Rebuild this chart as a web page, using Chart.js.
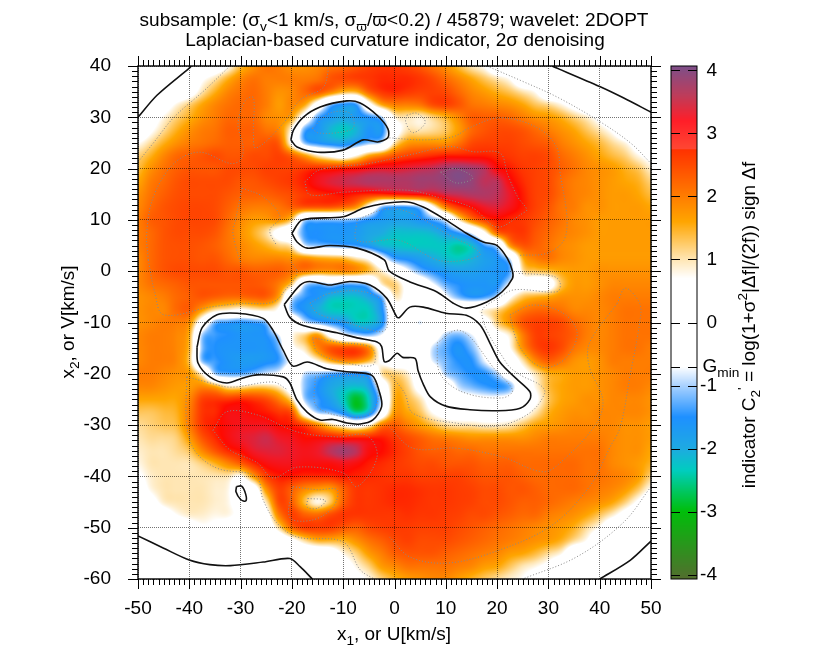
<!DOCTYPE html>
<html>
<head>
<meta charset="utf-8">
<style>html,body{margin:0;padding:0;background:#fff}canvas{display:block}</style>
<script src="https://cdn.jsdelivr.net/npm/chart.js@4"></script>
</head>
<body>
<canvas id="carte" width="822" height="658"></canvas>
<script>
// grid nodes, km/s
var gridX = [-50,-47.5,-45,-42.5,-40,-37.5,-35,-32.5,-30,-27.5,-25,-22.5,-20,-17.5,-15,-12.5,-10,-7.5,-5,-2.5,0,2.5,5,7.5,10,12.5,15,17.5,20,22.5,25,27.5,30,32.5,35,37.5,40,42.5,45,47.5,50];
var gridY = [40,37.5,35,32.5,30,27.5,25,22.5,20,17.5,15,12.5,10,7.5,5,2.5,0,-2.5,-5,-7.5,-10,-12.5,-15,-17.5,-20,-22.5,-25,-27.5,-30,-32.5,-35,-37.5,-40,-42.5,-45,-47.5,-50,-52.5,-55,-57.5,-60];

// indicator values, one row per gridY
var indicator = [
[0,0,0,0,0,0,0.2,0.7,1.4,1.8,2.1,2.0,1.8,1.8,1.9,2.1,2.2,2.4,2.6,2.7, 2.7,2.6,2.4,2.1,1.8,1.4,1.0,0.7,0,0,0,0,0,0,0,0,0,0,0,0,0],
[0,0,0,0,0,0.6,1.0,1.5,1.9,2.1,2.0,2.0,2.0,2.0,2.1,2.4,2.5,2.6,2.7,2.8, 2.8,2.8,2.7,2.5,2.2,1.9,1.6,1.3,1.0,0.7,0,0,0,0,0,0,0,0,0,0,0],
[0,0,0,0,0.3,1.0,1.5,1.9,2.1,2.2,2.0,1.8,1.9,2.2,2.4,2.0,1.5,1.5,2.3,2.7, 2.8,2.7,2.6,2.6,2.5,2.2,1.9,1.7,1.5,1.3,1.0,0.7,0,0,0,0,0,0,0,0,0],
[0,0,0.3,0.8,1.2,1.6,1.9,2.1,2.2,2.2,2.0,1.7,1.9,1.6,0.3,-1.1,-1.5,-1.4,0.4,1.6, 2.0,2.0,2.1,2.5,2.6,2.4,2.1,2.0,1.9,1.8,1.6,1.3,1.1,0.8,0.4,0,0,0,0,0,0],
[0,0.3,0.8,1.2,1.5,1.8,2.0,2.2,2.2,2.2,1.9,1.8,1.6,0.2,-1.3,-1.7,-1.9,-1.7,-1.5,-1.0, 0.8,1.0,0.9,1.2,1.5,1.9,2.3,2.3,2.3,2.2,2.0,1.8,1.7,1.5,1.2,0.9,0.5,0,0,0,0],
[0,0.6,1.1,1.5,1.8,2.0,2.1,2.3,2.3,2.3,2.1,1.9,0.7,-1.3,-1.6,-2.1,-2.3,-2.1,-1.6,-1.6, 0.2,1.0,1.0,1.1,1.3,1.7,2.2,2.4,2.5,2.5,2.4,2.2,2.0,1.8,1.6,1.3,1.0,0.6,0,0,0],
[0.7,1.1,1.5,1.8,2.0,2.1,2.2,2.3,2.3,2.3,2.4,2.3,0.6,-1.1,-1.5,-1.7,-1.8,-1.5,-1.1,-0.8, 1.0,1.7,1.8,1.8,1.8,2.1,2.5,2.6,2.6,2.6,2.5,2.4,2.3,2.0,1.8,1.6,1.4,1.1,0.8,0.3,0],
[1.2,1.5,1.9,2.2,2.3,2.4,2.5,2.4,2.4,2.5,2.5,2.6,2.3,1.7,1.0,0.6,0.3,0.8,1.6,2.0, 2.4,2.6,2.7,2.8,2.9,2.9,2.9,2.9,2.8,2.7,2.6,2.6,2.5,2.2,2.0,1.8,1.6,1.4,1.2,0.8,0.5],
[1.4,1.8,2.1,2.3,2.4,2.4,2.4,2.5,2.5,2.5,2.6,2.6,2.6,2.7,2.8,2.8,2.9,3.0,3.2,3.3, 3.3,3.4,3.5,3.6,3.8,3.9,3.8,3.6,3.1,2.9,2.7,2.6,2.5,2.3,2.1,1.9,1.8,1.7,1.5,1.3,0.9],
[1.6,2.0,2.2,2.4,2.5,2.5,2.5,2.5,2.4,2.4,2.5,2.6,2.7,2.9,3.2,3.4,3.5,3.6,3.7,3.7, 3.7,3.7,3.8,3.8,3.9,4.0,3.9,3.6,3.6,3.1,2.8,2.6,2.5,2.2,2.0,1.9,1.8,1.7,1.6,1.5,1.2],
[1.8,2.1,2.3,2.45,2.5,2.5,2.5,2.4,2.3,2.3,2.3,2.4,2.5,2.7,2.8,2.9,3.0,2.9,2.8,2.8, 2.9,3.0,3.1,3.2,3.5,3.6,3.7,3.7,3.6,3.3,2.9,2.6,2.5,2.2,2.0,1.9,1.8,1.7,1.7,1.6,1.4],
[1.9,2.2,2.4,2.5,2.55,2.55,2.5,2.3,2.1,2.0,2.0,2.1,2.3,2.4,2.4,2.4,2.2,1.8,0.5,-1.1, -1.4,-1.4,-1.0,0.6,2.0,2.7,3.0,3.3,3.4,3.2,2.9,2.6,2.4,2.1,2.0,1.8,1.8,1.7,1.7,1.7,1.6],
[2.0,2.3,2.4,2.5,2.55,2.55,2.5,2.2,1.9,1.7,1.7,1.8,1.2,-0.9,-1.1,-1.1,-1.1,-1.2,-1.5,-1.7, -1.8,-1.8,-1.6,-1.3,-0.7,0.9,2.0,2.6,2.9,2.8,2.7,2.5,2.3,2.1,1.9,1.8,1.7,1.7,1.7,1.7,1.7],
[2.0,2.2,2.4,2.5,2.5,2.5,2.4,2.1,1.8,1.5,1.1,0.4,-0.3,-1.4,-1.5,-1.6,-1.6,-1.7,-1.9,-2.0, -2.2,-2.2,-2.2,-2.1,-1.8,-1.4,-0.7,0.6,2.2,2.6,2.7,2.4,2.2,2.0,1.9,1.8,1.7,1.7,1.7,1.7,1.7],
[2.0,2.2,2.4,2.45,2.45,2.4,2.3,2.1,1.9,1.7,1.5,1.2,0.9,-0.8,-1.1,-1.2,-1.3,-1.4,-1.7,-2.1, -2.2,-2.3,-2.3,-2.3,-2.3,-2.45,-2.2,-1.4,-0.8,1.7,2.4,2.3,2.1,1.9,1.8,1.7,1.7,1.7,1.7,1.7,1.7],
[1.9,2.2,2.4,2.45,2.45,2.4,2.4,2.2,2.0,1.9,1.9,1.9,1.8,1.8,1.6,1.5,1.4,1.0,0.6,-0.5, -1.4,-1.6,-1.8,-2.0,-2.2,-2.3,-2.1,-1.8,-1.6,-0.8,1.5,2.0,2.1,1.9,1.8,1.7,1.7,1.7,1.7,1.7,1.7],
[1.9,2.2,2.4,2.5,2.5,2.5,2.5,2.4,2.4,2.3,2.3,2.3,2.1,2.0,1.8,1.8,1.9,1.8,1.4,0.9, 0.2,-0.6,-1.2,-1.5,-1.7,-1.8,-1.8,-1.7,-1.6,-1.3,1.0,1.3,1.4,1.6,1.7,1.7,1.8,1.8,1.8,1.8,1.8],
[1.9,2.1,2.2,2.3,2.4,2.4,2.4,2.4,2.4,2.4,2.3,2.0,1.2,-0.8,-1.2,-0.9,-1.2,-1.2,-0.9,0.9, 1.2,0.4,0.0,-0.7,-1.3,-1.5,-1.6,-1.6,-1.6,-0.7,0.3,0.2,0.3,1.3,1.7,1.7,1.8,1.9,1.9,1.9,1.9],
[1.8,1.9,2.0,2.2,2.3,2.4,2.3,2.2,2.2,2.3,2.3,1.6,-0.7,-1.4,-1.6,-2.1,-2.2,-2.2,-1.9,-1.2, 0.9,0.5,0.3,0.4,-0.6,-1.2,-1.5,-1.4,-0.9,0.6,1.3,1.5,1.6,1.8,1.8,1.8,1.9,2.0,2.0,2.0,2.0],
[1.8,1.9,1.9,2.2,2.3,1.7,1.1,0.9,0.7,0.9,1.0,0.6,-1.1,-1.6,-2.0,-2.3,-2.35,-2.35,-2.3,-1.6, 0.2,0.3,0.3,0.3,0.3,0.4,0.5,0.8,1.1,1.6,2.0,2.2,2.2,2.1,1.9,1.9,1.9,2.0,2.1,2.1,2.1],
[1.8,1.9,2.0,2.0,1.8,0.2,-1.2,-1.4,-1.5,-1.4,-1.1,0.6,0.3,-0.8,-1.2,-1.5,-1.7,-2.2,-2.2,-1.7, 0.2,0.1,-0.8,0.2,0.0,-0.1,0.0,0.3,1.2,1.8,2.4,2.6,2.6,2.5,2.2,2.0,1.9,2.0,2.1,2.1,2.1],
[1.9,2.0,2.0,1.9,1.5,-1.0,-1.4,-1.5,-1.6,-1.6,-1.5,-0.8,0.7,1.2,1.7,0.5,-0.5,-0.9,-1.1,-0.7, 0.1,0.2,0.2,-0.2,-1.0,-1.2,-0.8,-0.2,0.4,0.9,2.0,2.6,2.6,2.5,2.3,2.0,1.9,2.0,2.1,2.1,2.1],
[1.9,2.0,2.0,1.9,1.4,-1.1,-1.5,-1.6,-1.6,-1.6,-1.6,-1.2,0.5,1.0,1.9,2.4,2.5,2.5,1.9,0.3, 0.0,0.1,0.1,-0.9,-1.3,-1.6,-1.2,-0.5,-0.1,0.7,1.8,2.5,2.7,2.5,2.1,1.9,1.9,2.0,2.1,2.1,2.0],
[1.9,2.0,2.0,1.9,1.3,-1.1,-1.4,-1.6,-1.7,-1.7,-1.6,-1.4,-0.5,0.2,0.8,1.5,1.9,1.9,1.4,0.6, 0.2,0.3,0.1,-0.8,-1.2,-1.5,-1.5,-0.8,-0.1,0.1,1.0,1.9,2.3,2.1,1.8,1.7,1.8,2.0,2.0,2.0,2.0],
[2.0,2.0,1.9,1.8,1.7,0.8,-1.0,-1.3,-1.3,-1.1,-0.8,-0.6,0.1,-0.9,-1.1,-1.3,-1.4,-1.4,-1.2,1.0, 1.2,0.9,0.2,0.0,-1.0,-1.3,-1.5,-1.5,-1.0,-0.1,0.4,1.0,1.5,1.6,1.7,1.7,1.8,1.9,2.0,2.0,2.0],
[1.9,1.9,1.8,1.7,1.7,1.9,1.6,1.0,1.0,1.2,1.2,0.9,0.1,-1.1,-1.5,-1.9,-2.1,-2.2,-1.9,-0.2, 1.4,1.2,0.4,0.2,0.0,-0.9,-1.2,-1.4,-1.5,-1.2,0.1,0.8,1.4,1.6,1.7,1.7,1.8,1.9,2.0,2.0,1.9],
[1.6,1.6,1.6,1.6,1.9,2.6,2.7,2.7,2.8,2.7,2.5,2.0,1.1,-1.0,-1.4,-1.8,-2.3,-2.9,-2.3,-0.8, 1.5,1.4,1.0,0.3,0.1,-0.3,-0.4,-0.5,-0.5,-0.3,0.2,0.6,1.3,1.6,1.7,1.8,1.8,1.9,1.9,1.9,1.8],
[1.3,1.3,1.4,1.5,2.0,2.7,2.8,3.1,3.1,3.0,2.9,2.7,2.4,0.2,-1.0,-1.2,-1.7,-2.5,-2.0,-0.2, 1.7,1.6,1.3,0.7,0.4,0.3,0.2,0.2,0.2,0.3,0.5,1.0,1.5,1.7,1.8,1.8,1.9,1.9,1.9,1.9,1.8],
[1.1,1.2,1.3,1.4,2.0,2.7,2.9,3.1,3.2,3.2,3.2,3.0,2.9,2.6,1.9,1.2,0.7,0.3,0.8,2.0, 2.3,2.0,1.7,1.4,1.1,1.0,1.0,0.9,0.9,1.0,1.3,1.6,1.7,1.8,1.9,1.9,1.9,1.9,1.8,1.8,1.7],
[1.0,1.1,1.1,1.2,1.7,2.4,2.8,3.1,3.3,3.4,3.5,3.3,3.2,3.0,3.0,3.0,2.9,2.9,2.9,2.9, 2.7,2.5,2.3,2.1,2.0,1.9,1.8,1.8,1.8,1.8,1.8,1.9,2.0,2.0,2.0,2.0,2.0,1.9,1.8,1.8,1.7],
[0.9,1.0,1.0,1.1,1.3,1.9,2.4,2.8,3.0,3.3,3.4,3.4,3.3,3.2,3.3,3.6,3.8,3.6,3.1,3.0, 2.8,2.6,2.4,2.3,2.3,2.2,2.2,2.1,2.1,2.1,2.1,2.1,2.1,2.1,2.1,2.1,2.1,1.9,1.8,1.8,1.6],
[0.8,1.0,1.0,1.0,1.0,1.2,1.5,1.9,2.3,2.8,3.1,3.2,3.2,3.1,3.1,3.1,3.2,3.1,2.9,2.8, 2.7,2.6,2.5,2.5,2.4,2.4,2.4,2.3,2.3,2.3,2.2,2.2,2.2,2.2,2.2,2.1,2.1,1.9,1.8,1.7,1.5],
[0.6,0.9,1.0,1.0,1.0,1.0,1.0,1.0,0.7,1.7,2.6,2.9,2.9,2.8,2.8,2.8,2.9,2.85,2.8,2.75, 2.7,2.7,2.6,2.6,2.6,2.6,2.5,2.4,2.4,2.4,2.3,2.2,2.2,2.2,2.2,2.1,2.1,2.0,1.9,1.7,1.2],
[0.3,0.8,1.0,1.0,1.0,1.0,0.9,0.8,0.1,0.2,1.8,2.6,2.3,1.9,1.7,1.7,2.3,2.7,2.7,2.75, 2.8,2.8,2.75,2.7,2.7,2.65,2.6,2.5,2.5,2.4,2.4,2.3,2.2,2.2,2.2,2.1,2.0,1.9,1.7,1.3,0.7],
[0,0.4,0.9,1.0,1.0,1.0,0.9,0.8,0.3,0,1.0,2.5,2.3,1.4,0.8,1.3,2.3,2.7,2.7,2.75, 2.8,2.8,2.75,2.7,2.7,2.65,2.6,2.5,2.5,2.4,2.3,2.3,2.2,2.1,2.0,1.9,1.8,1.6,1.2,0.6,0],
[0,0,0.3,0.7,0.9,0.9,0.8,0.8,0.5,0,0.4,2.0,2.6,2.3,2.2,2.5,2.7,2.7,2.7,2.7, 2.7,2.75,2.7,2.7,2.65,2.6,2.5,2.5,2.4,2.3,2.2,2.2,2.0,1.9,1.8,1.6,1.3,0.9,0.4,0,0],
[0,0,0,0,0.3,0.6,0.5,0.3,0,0,0.1,1.1,2.2,2.6,2.6,2.6,2.4,2.3,2.5,2.6, 2.65,2.65,2.6,2.6,2.6,2.5,2.4,2.3,2.2,2.1,2.0,1.9,1.8,1.7,1.5,1.1,0.7,0,0,0,0],
[0,0,0,0,0,0,0,0,0,0,0,0,0.5,1.1,1.5,1.5,1.5,1.8,2.1,2.3, 2.5,2.6,2.5,2.5,2.5,2.4,2.3,2.2,2.1,2.0,1.9,1.8,1.7,1.5,1.1,0.7,0,0,0,0,0],
[0,0,0,0,0,0,0,0,0,0,0,0,0,0,0,0.2,0.8,1.2,1.7,2.0, 2.3,2.4,2.4,2.4,2.3,2.2,2.1,2.0,1.9,1.7,1.6,1.4,1.1,0.8,0,0,0,0,0,0,0],
[0,0,0,0,0,0,0,0,0,0,0,0,0,0,0,0,0.3,0.8,1.2,1.7, 1.9,2.1,2.1,2.1,2.1,2.0,1.9,1.7,1.6,1.3,1.0,0.8,0.5,0,0,0,0,0,0,0,0],
[0,0,0,0,0,0,0,0,0,0,0,0,0,0,0,0,0,0.5,0.8,1.2, 1.5,1.7,1.8,1.9,1.9,1.7,1.5,1.3,1.1,0.9,0.7,0.3,0,0,0,0,0,0,0,0,0]
];

var xTicks = [-50,-40,-30,-20,-10,0,10,20,30,40,50];
var yTicks = [-60,-50,-40,-30,-20,-10,0,10,20,30,40];
var colorTicks = [-4,-3,-2,-1,0,1,2,3,4];
var gMin = -0.7;

// palette stops: indicator value, r, g, b
var paletteStops = [
[-4.1,85,107,47],[-3,0,190,10],[-2.7,0,198,90],[-2.35,0,205,190],[-2,30,170,225],[-1.5,30,144,255],[-1,170,210,255],[-0.7,255,255,255],
[0.7,255,255,255],[1,255,230,180],[1.6,255,165,0],[2.74,255,50,0],[3,255,10,0],[3.3,240,25,40],[3.6,190,50,90],[4.1,120,80,140]
];
// the bar itself shows a lighter red above 2.75
var barStops = paletteStops.slice(0, 11).concat([[2.74,255,50,0],[2.76,255,70,50],[3.2,255,30,40],[3.6,190,60,90],[4.1,120,80,140]]);

// solid contours
var contourTop = [[-20.2,25.6],[-19.7,27.5],[-17.8,30],[-14.5,32],[-9.3,33.2],[-6.7,32.8],[-3.4,30.4],[-1.3,27.8],[-1.3,26],[-3.3,25.2],[-6.1,25.6],[-10,23.6],[-15,23.2],[-19,24.2],[-20.2,25.6]];
var contourMain = [[-20,7.4],[-18,10],[-10,10.6],[-6,12.3],[-2,13.2],[2.5,13.5],[5.6,12.5],[10,10],[14,7.4],[17.3,5.7],[20,5],[22,2.5],[23,0],[23,-1.4],[21,-4],[18,-6],[14,-7.2],[11.4,-6.2],[8.2,-4],[3,-2.1],[-1,0],[-2,2.2],[-7.3,4.5],[-12.6,5],[-17,4.5],[-19,5.7],[-20,7.4]];
var contourMiddle = [[-21.5,-6.5],[-18.4,-2.7],[-16.5,-2],[-12.6,-2.7],[-8.7,-2],[-4.8,-2.7],[-1.5,-5.3],[0.5,-9],[1,-9],[3,-7],[5.6,-7],[10,-8.2],[14,-8.6],[16.7,-10.5],[18.6,-14],[20.6,-17.8],[23.8,-21],[26.4,-23.5],[26.4,-25],[24.5,-26.7],[20,-27.2],[14.7,-27],[10,-26.3],[7,-24.5],[5.6,-22],[4.6,-19.4],[4,-17],[1.6,-16.8],[0.5,-16],[-1,-17.4],[-2,-17.6],[-2.5,-14.7],[-3.4,-13.8],[-7.3,-13],[-11.2,-12],[-17.8,-10.6],[-20.4,-9],[-21.5,-6.5]];
var contourLeft = [[-38.5,-14.8],[-37.5,-11],[-34.6,-8.5],[-30.7,-8.2],[-25.6,-9.2],[-23.7,-11.5],[-21.7,-15.4],[-19.8,-18.5],[-17,-17.7],[-13.2,-19],[-9.3,-19.6],[-4.4,-20.3],[-2.9,-23.7],[-2.5,-26.4],[-4.2,-29],[-6.7,-29.8],[-9.3,-29.6],[-12,-28.9],[-14.5,-29],[-17,-27.5],[-19,-25.1],[-20.4,-21.8],[-21.7,-20.6],[-26.8,-20.2],[-29.5,-20.8],[-32.7,-21.8],[-36,-20.6],[-38.3,-17.9],[-38.5,-14.8]];
var contourIsle = [[-30.8,-42],[-29.8,-41.9],[-29,-43.5],[-29,-44.8],[-30,-44.5],[-30.9,-43],[-30.8,-42]];
var contourCornerTL = [[-50,30],[-46.3,34.3],[-40,39.6],[-39.6,40]];
var contourCornerTR = [[30.7,40],[40,36],[44.6,33.8],[50,31]];
var contourCornerBL = [[-50,-51.6],[-45,-54],[-40,-56.3],[-36,-57.2],[-32,-57.4],[-25.6,-56.7],[-20.4,-56],[-18.4,-57.6],[-16,-60]];
var contourCornerBR = [[40,-60],[46,-56.3],[50,-52.6]];
var solidContours = [contourTop,contourMain,contourMiddle,contourLeft,contourIsle,contourCornerTL,contourCornerTR,contourCornerBL,contourCornerBR];

// dotted contours
var dotA = [[-50,21.3],[-47,25],[-43,30],[-37,35.3],[-32.5,39.6]];
var dotB = [[18,40],[25,37],[31.6,34],[39.5,29.5],[46,25],[50,21]];
var dotC = [[-48,2.2],[-48.3,7.4],[-47,14.5],[-43,21],[-38,23.2],[-32,21],[-30,21.7],[-29.5,24.2],[-30.5,28.8],[-29,33.4],[-27.5,33.8],[-27.5,27],[-27,24],[-21.7,28.8],[-18.4,33.4],[-14,35.7],[-13,38.6],[-13,40]];
var dotD = [[-48,2.2],[-46.7,-4.3],[-45,-8.5],[-36,-7],[-30,-6.3],[-23.7,-6],[-21,-3.3],[-19,-0.3],[-20.4,2.2]];
var dotE = [[-29.7,16.2],[-31,10],[-31.5,7.4],[-30,1.6]];
var dotF = [[-29.7,16.2],[-25.6,14.5],[-22.3,10.6],[-24.3,8],[-23,5]];
var dotRed = [[-17.5,17.4],[-14.5,19.8],[-5,21],[3,22.7],[10.8,24.3],[15.3,23.3],[20.6,23],[22,19],[24,14.5],[25.8,12],[25,11.3],[20,8.6],[15.3,12.3],[8.2,14.5],[2.5,15.8],[-10,15.4],[-16.5,14.9],[-17.5,17.4]];
var dotPurple = [[9,19.3],[12,20],[15.3,18.2],[12,17.2],[9,19.3]];
var dotUpper = [[-1,26],[5.6,25.6],[11.4,26.2],[14.7,28],[20.6,29.9],[27.8,28],[31.6,24.2],[32.3,19],[33.6,10.6],[33,6],[29.7,3.5],[24.5,3.1]];
var dotPale = [[2.4,30.4],[4.3,30.8],[6,29],[3.6,27],[2.2,29],[2.4,30.4]];
var dotLowLeft = [[-40.5,-20.6],[-40.5,-29.6],[-39,-34.9],[-34.6,-38.4],[-27,-40],[-25.6,-44.6],[-23,-49],[-19,-51.8],[-10,-52.8],[-6.7,-58.2],[-4,-60]];
var dotLowTop = [[-40.5,-20.6],[-37,-21.5],[-32,-22.6],[-23.7,-21.6],[-21,-23]];
var dotCrimson = [[-35.4,-31],[-32.7,-27.4],[-26.8,-28],[-19,-31.3],[-11.2,-32.3],[-5.4,-32],[-3.4,-36.2],[-7.3,-42],[-10,-39.3],[-19,-38.2],[-23.7,-40.3],[-26.8,-37.3],[-32,-34.9],[-35.4,-31]];
var dotIsleOut = [[-19.8,-42],[-15,-42.6],[-11.2,-42.6],[-12,-46],[-16,-48.5],[-20.4,-48],[-19.8,-42]];
var dotIsleIn = [[-16.9,-44.3],[-13.5,-44.7],[-15,-46.2],[-17,-46],[-16.9,-44.3]];
var dotLobe = [[22.5,-8.5],[27,-6.6],[32.9,-8.2],[35.6,-12],[33.6,-16.7],[29.7,-18.8],[26.4,-17.3],[23.8,-13.4],[22.5,-8.5]];
var dotRight = [[43.4,-6.3],[45,-3.3],[47.8,-6.3],[47.8,-10],[46,-19.9],[44,-30.4],[42,-34.3],[38,-42],[30.3,-49.8],[18.6,-55],[10,-56.9],[3,-55.7],[-1,-51.8]];
var dotRightIn = [[43.4,-6.3],[38,-14],[38,-18.7],[40.6,-25],[39.4,-29.6],[32.9,-36.8],[29,-39.1],[21,-36.2],[12,-34.5],[3.6,-34.5],[-1,-30.4]];
var dotFar = [[50,-42],[44.6,-49],[35.5,-55.7],[25,-60]];
var dotBlue = [[8.3,-14],[12,-11.5],[14.7,-12.8],[19.2,-18.7],[23,-23.2],[21,-24.7],[13.4,-23.6],[8.9,-20],[8.3,-14]];
var dotWhite = [[-1,-20],[2,-23.8],[3.6,-27.7],[12,-29.6],[20,-30.2],[26.4,-27.6],[29.3,-23.7],[28.4,-22.2],[24.5,-20.2],[21.9,-18],[17,-8.2],[20.6,-5],[23.5,-3.6],[31.7,-4],[32.3,-2.3],[31,-1],[24,-0.4]];
var dotTopIn = [[-16,27.9],[-12.6,30.8],[-8.7,30.8],[-8,28],[-11.2,27],[-15,27],[-16,27.9]];
var dotMainIn = [[-7.3,10],[-2.2,12],[2.5,11.6],[10,7.4],[16.7,3.5],[14,2.2],[8.3,2.2],[1,6],[-7.3,6],[-7.3,10]];
var dotMidIn = [[-16.5,-6.2],[-12.6,-4.3],[-6,-4],[-2,-6.2],[-1.4,-10.8],[-2.8,-11.8],[-9.3,-10],[-15,-8.2],[-16.5,-6.2]];
var dotFifthIn = [[-15.5,-20.6],[-4.8,-20.9],[-3.2,-25],[-6,-28.4],[-15,-26.5],[-15.5,-20.6]];
var dotBand = [[-16,-13],[-11.2,-13.8],[-4.4,-15],[-4.2,-18.3],[-10,-17.7],[-15,-15.8],[-16,-13]];
var dottedContours = [dotA,dotB,dotC,dotD,dotE,dotF,dotRed,dotPurple,dotUpper,dotPale,dotLowLeft,dotLowTop,dotCrimson,dotIsleOut,dotIsleIn,dotLobe,dotRight,dotRightIn,dotFar,dotBlue,dotWhite,dotTopIn,dotMainIn,dotMidIn,dotFifthIn,dotBand];

function couleur(v, s)
{
    if(v <= s[0][0]) return s[0].slice(1);
    for(var i = 1; i < s.length; i++)
    {
        if(v <= s[i][0])
        {
            var t = (v - s[i-1][0]) / (s[i][0] - s[i-1][0]);
            return [s[i-1][1] + t*(s[i][1]-s[i-1][1]), s[i-1][2] + t*(s[i][2]-s[i-1][2]), s[i-1][3] + t*(s[i][3]-s[i-1][3])];
        }
    }
    return s[s.length-1].slice(1);
}

function cubique(a, b, c, d, t)
{
    return b + 0.5*t*(c - a + t*(2*a - 5*b + 4*c - d + t*(3*(b - c) + d - a)));
}

function valeurAt(points, X, Y)
{
    var nx = gridX.length, ny = gridY.length;
    var fx = (X - gridX[0]) / (gridX[1] - gridX[0]);
    var fy = (Y - gridY[0]) / (gridY[1] - gridY[0]);
    var ix = Math.max(0, Math.min(nx - 2, Math.floor(fx)));
    var iy = Math.max(0, Math.min(ny - 2, Math.floor(fy)));
    var ligne = [];
    for(var r = -1; r <= 2; r++)
    {
        var rr = Math.max(0, Math.min(ny - 1, iy + r));
        var col = [];
        for(var c = -1; c <= 2; c++)
            col.push(points[rr*nx + Math.max(0, Math.min(nx - 1, ix + c))].v);
        ligne.push(cubique(col[0], col[1], col[2], col[3], fx - ix));
    }
    return cubique(ligne[0], ligne[1], ligne[2], ligne[3], fy - iy);
}

var heatPoints = [];
gridY.forEach(function(y, r){
    gridX.forEach(function(x, c){
        heatPoints.push({x: x, y: y, v: indicator[r][c]});
    });
});

function vers(points)
{
    return points.map(function(p){ return {x: p[0], y: p[1]}; });
}

var datasets = [{label: 'indicator', data: heatPoints, pointRadius: 0, showLine: false}];
dottedContours.forEach(function(c){
    datasets.push({data: vers(c), showLine: true, pointRadius: 0, borderColor: '#8a8a8a', borderWidth: 1, borderDash: [1,2], tension: 0.35});
});
solidContours.forEach(function(c){
    datasets.push({data: vers(c), showLine: true, pointRadius: 0, borderColor: '#111', borderWidth: 1.6, tension: 0.3});
});

var police = '"Liberation Sans"';

// text with sub/superscript parts, [text, mode]
function texteRiche(ctx, runs, cx, cy, taille, angle)
{
    ctx.save();
    ctx.translate(cx, cy);
    ctx.rotate(angle || 0);
    ctx.fillStyle = '#000';
    ctx.textAlign = 'left';
    ctx.textBaseline = 'alphabetic';
    var total = 0;
    runs.forEach(function(r){
        ctx.font = (r[1] ? taille*0.72 : taille) + 'px ' + police;
        total += ctx.measureText(r[0]).width;
    });
    var x = -total/2;
    runs.forEach(function(r){
        ctx.font = (r[1] ? taille*0.72 : taille) + 'px ' + police;
        var dy = r[1] == 'sub' ? taille*0.28 : (r[1] == 'sup' ? -taille*0.42 : 0);
        ctx.fillText(r[0], x, dy);
        x += ctx.measureText(r[0]).width;
    });
    ctx.restore();
}

var peinture = {
    id: 'peinture',
    beforeDraw: function(chart)
    {
        var ctx = chart.ctx, a = chart.chartArea;
        var sx = chart.scales.x, sy = chart.scales.y, sc = chart.scales.c;
        var w = Math.round(a.right - a.left), h = Math.round(a.bottom - a.top);
        var img = ctx.createImageData(w, h);
        var points = chart.data.datasets[0].data;
        for(var j = 0; j < h; j++)
        {
            var Y = sy.getValueForPixel(a.top + j + 0.5);
            for(var i = 0; i < w; i++)
            {
                var c = couleur(valeurAt(points, sx.getValueForPixel(a.left + i + 0.5), Y), paletteStops);
                var k = 4*(j*w + i);
                img.data[k] = c[0]; img.data[k+1] = c[1]; img.data[k+2] = c[2]; img.data[k+3] = 255;
            }
        }
        ctx.putImageData(img, Math.round(a.left), Math.round(a.top));

        // colour bar through its own scale
        for(var py = Math.round(sc.top); py < Math.round(sc.bottom); py++)
        {
            var rgb = couleur(sc.getValueForPixel(py + 0.5), barStops);
            ctx.fillStyle = 'rgb(' + Math.round(rgb[0]) + ',' + Math.round(rgb[1]) + ',' + Math.round(rgb[2]) + ')';
            ctx.fillRect(671, py, 26, 1);
        }
    },
    afterDraw: function(chart)
    {
        var ctx = chart.ctx, a = chart.chartArea;
        var sx = chart.scales.x, sy = chart.scales.y, sc = chart.scales.c;
        ctx.save();
        ctx.strokeStyle = '#000';
        ctx.lineWidth = 1;
        ctx.beginPath();
        var v, p, l;
        for(v = -50; v <= 50; v++)
        {
            p = Math.round(sx.getPixelForValue(v)) + 0.5;
            l = v % 10 == 0 ? 10 : 6;
            ctx.moveTo(p, a.top); ctx.lineTo(p, a.top - l);
            ctx.moveTo(p, a.bottom); ctx.lineTo(p, a.bottom + l);
        }
        for(v = -60; v <= 40; v++)
        {
            p = Math.round(sy.getPixelForValue(v)) + 0.5;
            l = v % 10 == 0 ? 10 : 6;
            ctx.moveTo(a.left, p); ctx.lineTo(a.left - l, p);
            ctx.moveTo(a.right, p); ctx.lineTo(a.right + l, p);
        }
        ctx.stroke();
        ctx.lineWidth = 1.4;
        ctx.strokeRect(a.left, a.top, a.right - a.left, a.bottom - a.top);

        // colour bar frame and inner ticks
        ctx.lineWidth = 1;
        ctx.strokeRect(671, sc.top, 26, sc.bottom - sc.top);
        ctx.beginPath();
        colorTicks.concat([gMin]).forEach(function(t){
            var q = Math.round(sc.getPixelForValue(t)) + 0.5;
            ctx.moveTo(671, q); ctx.lineTo(680, q);
            ctx.moveTo(688, q); ctx.lineTo(697, q);
        });
        ctx.stroke();
        ctx.restore();

        texteRiche(ctx, [['G'],['min','sub']], 721, sc.getPixelForValue(gMin) + 5, 19);
        texteRiche(ctx, [['subsample: (σ'],['v','sub'],['<1 km/s, σ'],['ϖ','sub'],['/ϖ<0.2) / 45879; wavelet: 2DOPT']], 394, 26, 19);
        texteRiche(ctx, [['Laplacian-based curvature indicator, 2σ denoising']], 395, 46, 19);
        texteRiche(ctx, [['x'],['1','sub'],[', or U[km/s]']], 394, 640, 19);
        texteRiche(ctx, [['x'],['2','sub'],[', or V[km/s]']], 74, 322, 19, -Math.PI/2);
        texteRiche(ctx, [['indicator C'],['2','sub'],["'",'sup'],[' = log(1+σ'],['2','sup'],['|Δf|/(2f)) sign Δf']], 755, 325, 19, -Math.PI/2);
    }
};

new Chart(document.getElementById('carte'), {
    type: 'scatter',
    data: {datasets: datasets},
    plugins: [peinture],
    options: {
        responsive: false,
        animation: false,
        events: [],
        layout: {padding: {top: 66, right: 0, bottom: 0, left: 0}},
        plugins: {legend: {display: false}, title: {display: false}, tooltip: {enabled: false}},
        scales: {
            x: {
                type: 'linear', min: -50, max: 50,
                afterBuildTicks: function(s){ s.ticks = xTicks.map(function(v){ return {value: v}; }); },
                afterFit: function(s){ s.height = 79; },
                grid: {color: 'rgba(0,0,0,0.55)', tickLength: 10, tickColor: 'rgba(0,0,0,0)'},
                border: {dash: [1,1], display: false},
                ticks: {color: '#000', autoSkip: false, maxRotation: 0, padding: 8, font: {family: police, size: 19}}
            },
            y: {
                type: 'linear', min: -60, max: 40,
                afterBuildTicks: function(s){ s.ticks = yTicks.map(function(v){ return {value: v}; }); },
                afterFit: function(s){ s.width = 138; },
                grid: {color: 'rgba(0,0,0,0.55)', tickLength: 10, tickColor: 'rgba(0,0,0,0)'},
                border: {dash: [1,1], display: false},
                ticks: {color: '#000', autoSkip: false, padding: 17, font: {family: police, size: 19}}
            },
            c: {
                type: 'linear', position: 'right', min: -4.07, max: 4.07,
                afterBuildTicks: function(s){ s.ticks = colorTicks.map(function(v){ return {value: v}; }); },
                afterFit: function(s){ s.width = 171; s.paddingTop = 0; s.paddingBottom = 0; },
                grid: {display: false, drawTicks: false},
                border: {display: false},
                ticks: {color: '#000', autoSkip: false, mirror: true, padding: 66, crossAlign: 'near', font: {family: police, size: 19}}
            }
        }
    }
});
</script>
</body>
</html>
